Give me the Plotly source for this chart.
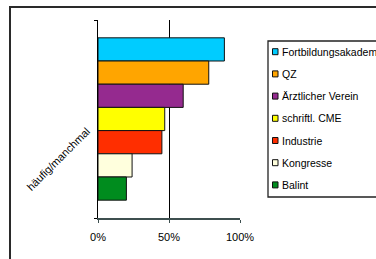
import plotly.graph_objects as go

category = ["häufig/manchmal"]
series_names = ["Fortbildungsakademie", "QZ", "Ärztlicher Verein", "schriftl. CME",
                "Industrie", "Kongresse", "Balint"]
series_values = [0.89, 0.78, 0.60, 0.47, 0.45, 0.24, 0.20]
series_colors = ["#00CCFF", "#FFA500", "#952A8F", "#FFFF00", "#FF2E00", "#FFFFDD", "#008C1E"]
x_tickvals = [0, 0.5, 1.0]
x_ticktext = ["0%", "50%", "100%"]

W, H = 376, 259
L, R, T, B = 98, 136, 20, 41
PW, PH = W - L - R, H - T - B


def px(x):
    return (x - L) / PW


def py(y):
    return (H - B - y) / PH


FONT = "Arial, Liberation Sans, sans-serif"

fig = go.Figure()
for name, val, col in zip(series_names, series_values, series_colors):
    fig.add_trace(go.Bar(
        y=category, x=[val], name=name, orientation="h",
        marker=dict(color=col, line=dict(color="#111111", width=1)),
        showlegend=False,
    ))

shapes = [
    # outer chart border
    dict(type="rect", xref="paper", yref="paper",
         x0=px(10), x1=px(420), y0=py(300), y1=py(7),
         line=dict(color="#2a2a2a", width=2), layer="below"),
    # legend box
    dict(type="rect", xref="paper", yref="paper",
         x0=px(268), x1=px(420), y0=py(197), y1=py(41),
         line=dict(color="#222222", width=1.3), fillcolor="white"),
]
annotations = []
for i, (name, col) in enumerate(zip(series_names, series_colors)):
    yc = 51.7 + i * 22.2
    shapes.append(dict(type="rect", xref="paper", yref="paper",
                       x0=px(272.5), x1=px(278), y0=py(yc + 3), y1=py(yc - 3),
                       line=dict(color="#111111", width=1), fillcolor=col))
    annotations.append(dict(xref="paper", yref="paper", x=px(280), y=py(yc),
                            text=name, showarrow=False, xanchor="left", yanchor="middle",
                            font=dict(family=FONT, size=10.5, color="#000000")))

fig.update_layout(
    width=W, height=H,
    margin=dict(l=L, r=R, t=T, b=B, autoexpand=False),
    paper_bgcolor="white", plot_bgcolor="white",
    barmode="group", bargap=0.18, bargroupgap=0,
    font=dict(family=FONT, size=11, color="#000000"),
    shapes=shapes, annotations=annotations,
    showlegend=False,
)
fig.update_xaxes(
    range=[0, 1], tickvals=x_tickvals, ticktext=x_ticktext,
    showgrid=True, gridcolor="#000000", gridwidth=1,
    zeroline=False,
    showline=True, linecolor="#3d4f4f", linewidth=2,
    ticks="outside", ticklen=3, tickcolor="#3d4f4f",
    ticklabelstandoff=5, automargin=False,
    tickfont=dict(family=FONT, size=11),
)
fig.update_yaxes(
    autorange="reversed", type="category",
    showline=True, linecolor="#000000", linewidth=1,
    ticks="outside", ticklen=3, tickcolor="#000000", tickson="boundaries",
    tickangle=-45, ticklabelstandoff=8, ticklabelshift=-11, automargin=False,
    tickfont=dict(family=FONT, size=11),
    showgrid=False,
)

fig.write_html("out.html", config={"displayModeBar": False},
               post_script="document.body.style.margin='0';")
